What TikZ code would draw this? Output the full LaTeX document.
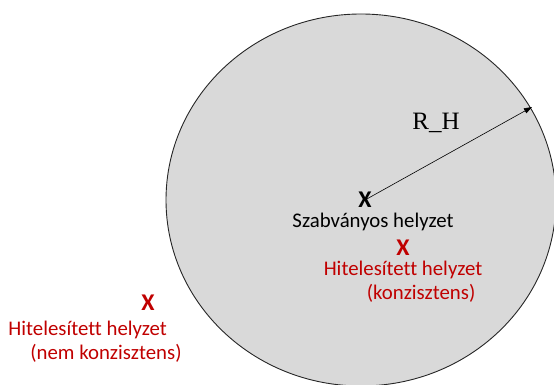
\documentclass[tikz,border=0pt]{standalone}
\usepackage{fontspec}
\setmainfont{Carlito}[Ligatures=NoCommon]
\newfontfamily\rhfont{Liberation Serif}
\usetikzlibrary{arrows.meta}
\definecolor{dred}{RGB}{192,0,0}
\definecolor{cgray}{RGB}{217,217,217}
\begin{document}
\begin{tikzpicture}[x=1pt,y=1pt,
  lbl/.style={font=\fontsize{20.8}{24}\selectfont, inner sep=0pt},
  xmark/.style={font=\fontsize{24}{24}\selectfont\bfseries, inner sep=0pt, text depth=0pt, text height=15pt},
  redtxt/.style={text=dred}]
\useasboundingbox (0,0) rectangle (554,385);
\clip (0,0) rectangle (554,385);
\draw[fill=cgray, draw=black!85, line width=0.9pt] (361,185) ellipse [x radius=195, y radius=186];
\node[xmark] (sx) at (365,185) {X};
\node[lbl, text height=13pt, text depth=4pt] (sl) at (373,162) {Szabványos helyzet};
\coordinate (tip) at (532,278);
\draw[-{Triangle[length=8pt,width=5.5pt]}, line width=0.6pt] (sx.center) -- (tip);
\node[inner sep=0pt, font=\rhfont\fontsize{25}{25}\selectfont] (rh) at (436,262) {R\_H};
\node[xmark, redtxt] (cx) at (403,137) {X};
\node[lbl, redtxt, align=left] (cl) at (403,103.5) {Hitelesített helyzet\\\hspace*{43pt}(konzisztens)};
\node[xmark, redtxt] (nx) at (148,82) {X};
\node[lbl, redtxt, align=left] (nl) at (95,43) {Hitelesített helyzet\\\hspace*{22pt}(nem konzisztens)};
\end{tikzpicture}
\end{document}
